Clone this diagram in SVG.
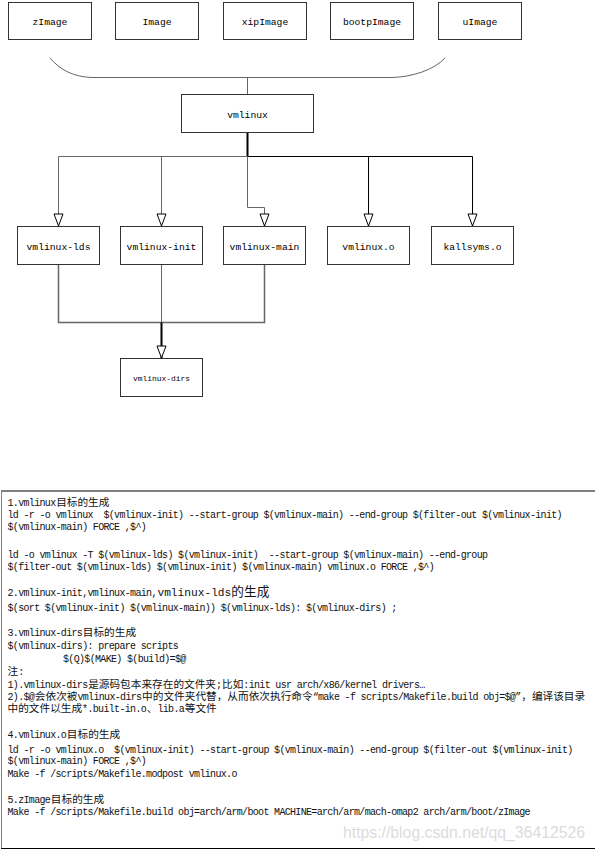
<svg xmlns="http://www.w3.org/2000/svg" width="595" height="851" viewBox="0 0 595 851" xml:space="preserve">
<style>
.box{fill:#fff;stroke:#333;stroke-width:1}
.lbl{font-family:"Liberation Mono",monospace;font-size:9.7px;text-anchor:middle;fill:#000}
.g{stroke:#666;fill:none;stroke-width:1}
.k{stroke:#000;fill:none;stroke-width:1}
.t{font-family:"Liberation Mono","Noto Sans CJK SC",monospace;font-size:10px;letter-spacing:-0.67px;fill:#111;white-space:pre}
.c{font-family:"Noto Sans CJK SC",sans-serif;font-size:10.67px;letter-spacing:0}
</style>
<defs>
<marker id="arr" markerUnits="userSpaceOnUse" viewBox="0 -6 14 12" refX="13" refY="0" markerWidth="14" markerHeight="12" orient="auto">
<path d="M1,-4.5 L13,0 L1,4.5 Z" fill="#fff" stroke="#000" stroke-width="1"/>
</marker>
</defs>
<rect width="595" height="851" fill="#fff"/>
<g id="connectors">
<path class="g" d="M50,58 C60,70 74,77 92,77.5 L392,77.5 C412,77 434,70 445,58"/>
<path class="g" d="M247.5,77.5 V94.5"/>
<path class="k" style="stroke-width:2" d="M247.5,132.5 V156.5"/>
<path class="g" d="M58.5,156.5 H247.5"/>
<path class="k" d="M247.5,156.5 H472.5"/>
<path class="g" d="M58.5,156.5 V226" marker-end="url(#arr)"/>
<path class="g" d="M161.5,156.5 V226" marker-end="url(#arr)"/>
<path class="g" d="M247.5,156.5 V207.5 H264.5 V226" marker-end="url(#arr)"/>
<path class="k" d="M368.5,156.5 V226" marker-end="url(#arr)"/>
<path class="k" d="M472.5,156.5 V226" marker-end="url(#arr)"/>
<path class="g" style="stroke-width:1.5" d="M58.5,264.5 V322.5 H264.5 V264.5"/>
<path class="g" d="M161.5,264.5 V322.5"/>
<path class="k" style="stroke-width:2" d="M161.5,322.5 V358" marker-end="url(#arr)"/>
</g>
<g id="zImage"><rect class="box" x="8.5" y="2.5" width="83" height="37"/><text class="lbl" x="50" y="24.5">zImage</text></g>
<g id="Image"><rect class="box" x="115.5" y="2.5" width="83" height="37"/><text class="lbl" x="157" y="24.5">Image</text></g>
<g id="xipImage"><rect class="box" x="223.5" y="2.5" width="83" height="37"/><text class="lbl" x="265" y="24.5">xipImage</text></g>
<g id="bootpImage"><rect class="box" x="330.5" y="2.5" width="83" height="37"/><text class="lbl" x="372" y="24.5">bootpImage</text></g>
<g id="uImage"><rect class="box" x="438.5" y="2.5" width="83" height="37"/><text class="lbl" x="480" y="24.5">uImage</text></g>
<g id="vmlinux"><rect class="box" x="181.5" y="94.5" width="132" height="38"/><text class="lbl" x="247.5" y="117.5">vmlinux</text></g>
<g id="vmlinux-lds"><rect class="box" x="17.5" y="226.5" width="82" height="38"/><text class="lbl" x="58.5" y="249.5">vmlinux-lds</text></g>
<g id="vmlinux-init"><rect class="box" x="120.5" y="226.5" width="82" height="38"/><text class="lbl" x="161.5" y="249.5">vmlinux-init</text></g>
<g id="vmlinux-main"><rect class="box" x="223.5" y="226.5" width="82" height="38"/><text class="lbl" x="264.5" y="249.5">vmlinux-main</text></g>
<g id="vmlinux.o"><rect class="box" x="327.5" y="226.5" width="82" height="38"/><text class="lbl" x="368.5" y="249.5">vmlinux.o</text></g>
<g id="kallsyms.o"><rect class="box" x="431.5" y="226.5" width="82" height="38"/><text class="lbl" x="472.5" y="249.5">kallsyms.o</text></g>
<g id="vmlinux-dirs"><rect class="box" x="120.5" y="358.5" width="82" height="38"/><text class="lbl" x="161.5" y="381" style="font-size:7.9px">vmlinux-dirs</text></g>
<g id="notes">
<path d="M1,491 H595" stroke="#808080" stroke-width="2"/>
<path d="M1.5,490 V849" stroke="#808080" stroke-width="1"/>
<path d="M1,848.5 H595" stroke="#000" stroke-width="1"/>
<text class="t" x="7.5" y="506">1.vmlinux<tspan class="c" dx="0.67">目标的生成</tspan></text>
<text class="t" x="7.5" y="518">ld -r -o vmlinux  $(vmlinux-init) --start-group $(vmlinux-main) --end-group $(filter-out $(vmlinux-init)</text>
<text class="t" x="7.5" y="530">$(vmlinux-main) FORCE ,$^)</text>
<text class="t" x="7.5" y="558">ld -o vmlinux -T $(vmlinux-lds) $(vmlinux-init)  --start-group $(vmlinux-main) --end-group</text>
<text class="t" x="7.5" y="570">$(filter-out $(vmlinux-lds) $(vmlinux-init) $(vmlinux-main) vmlinux.o FORCE ,$^)</text>
<text class="t" x="7.5" y="596">2.vmlinux-init,vmlinux-main,<tspan dx="0.67" style="font-size:11.2px;letter-spacing:0">vmlinux-lds</tspan><tspan class="c" style="font-size:12.7px">的生成</tspan></text>
<text class="t" x="7.5" y="611">$(sort $(vmlinux-init) $(vmlinux-main)) $(vmlinux-lds): $(vmlinux-dirs) ;</text>
<text class="t" x="7.5" y="636">3.vmlinux-dirs<tspan class="c" dx="0.67">目标的生成</tspan></text>
<text class="t" x="7.5" y="649">$(vmlinux-dirs): prepare scripts</text>
<text class="t" x="63" y="662">$(Q)$(MAKE) $(build)=$@</text>
<text class="t" x="7.5" y="675"><tspan class="c">注</tspan>:</text>
<text class="t" x="7.5" y="688">1).vmlinux-dirs<tspan class="c" dx="0.67">是源码包本来存在的文件夹</tspan>;<tspan class="c" dx="0.67">比如</tspan>:init usr arch/x86/kernel drivers…</text>
<text class="t" x="7.5" y="700">2).$@<tspan class="c" dx="0.67">会依次被</tspan>vmlinux-dirs<tspan class="c" dx="0.67">中的文件夹代替，从而依次执行命令</tspan>“make -f scripts/Makefile.build obj=$@”<tspan class="c" dx="0.67">，编译该目录</tspan></text>
<text class="t" x="7.5" y="712"><tspan class="c">中的文件以生成</tspan>*.built-in.o<tspan class="c" dx="0.67">、</tspan>lib.a<tspan class="c" dx="0.67">等文件</tspan></text>
<text class="t" x="7.5" y="738">4.vmlinux.o<tspan class="c" dx="0.67">目标的生成</tspan></text>
<text class="t" x="7.5" y="753">ld -r -o vmlinux.o  $(vmlinux-init) --start-group $(vmlinux-main) --end-group $(filter-out $(vmlinux-init)</text>
<text class="t" x="7.5" y="764">$(vmlinux-main) FORCE ,$^)</text>
<text class="t" x="7.5" y="777">Make -f /scripts/Makefile.modpost vmlinux.o</text>
<text class="t" x="7.5" y="803">5.zImage<tspan class="c" dx="0.67">目标的生成</tspan></text>
<text class="t" x="7.5" y="815">Make -f /scripts/Makefile.build obj=arch/arm/boot MACHINE=arch/arm/mach-omap2 arch/arm/boot/zImage</text>
<text x="343" y="838" font-family="Liberation Sans, Arial, sans-serif" font-size="16" fill="#dcdcdc" textLength="242" lengthAdjust="spacingAndGlyphs">https://blog.csdn.net/qq_36412526</text>
</g>
</svg>
